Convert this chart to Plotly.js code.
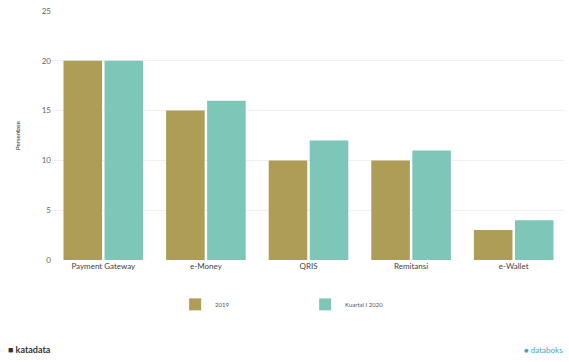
<!DOCTYPE html>
<html>
<head>
<meta charset="utf-8">
<script src="https://cdn.plot.ly/plotly-3.0.1.min.js"></script>
<style>html,body{margin:0;padding:0;background:#fff;}#chart{width:569px;height:362px;}</style>
</head>
<body>
<div id="chart"></div>
<script>
const categories = ["Payment Gateway", "e-Money", "QRIS", "Remitansi", "e-Wallet"];
const series2019 = [20, 15, 10, 10, 3];
const seriesQ12020 = [20, 16, 12, 11, 4];
const seriesNames = ["2019", "Kuartal I 2020"];
const yTicks = [0, 5, 10, 15, 20, 25];

const traces = [
  {type: "bar", x: categories, y: series2019, name: seriesNames[0],
   marker: {color: "#ad9d57"}},
  {type: "bar", x: categories, y: seriesQ12020, name: seriesNames[1],
   marker: {color: "#7dc6b8"}}
];

const layout = {
  width: 569, height: 362,
  margin: {l: 52, r: 4, t: 11, b: 102},
  paper_bgcolor: "#fff", plot_bgcolor: "#fff",
  font: {family: "Lato, 'Open Sans', sans-serif", color: "#555", size: 8},
  barmode: "group", bargap: 0.2, bargroupgap: 0.06,
  xaxis: {tickfont: {size: 8, color: "#444"}, showline: false, ticks: ""},
  yaxis: {range: [0, 25], tickvals: yTicks, showgrid: true, gridcolor: "#f0f0f0",
          zeroline: false, ticks: "", tickfont: {size: 8, color: "#666"},
          title: {text: "Persentase", font: {size: 6, color: "#222"}, standoff: 20}},
  showlegend: true,
  legend: {orientation: "h", x: 0.24, xanchor: "left", y: -0.12, yanchor: "top",
           font: {size: 6, color: "#555"}, itemwidth: 30, tracegroupgap: 0,
           traceorder: "normal", entrywidth: 85},
  annotations: [
    {text: "<b>■ katadata</b>", xref: "paper", yref: "paper", x: -0.09, y: -0.36,
     xanchor: "left", yanchor: "middle", showarrow: false, font: {size: 9, color: "#333"}},
    {text: "● databoks", xref: "paper", yref: "paper", x: 1.0, y: -0.36,
     xanchor: "right", yanchor: "middle", showarrow: false, font: {size: 8, color: "#3aa9c4"}}
  ]
};

Plotly.newPlot("chart", traces, layout, {displayModeBar: false, staticPlot: true});
</script>
</body>
</html>
